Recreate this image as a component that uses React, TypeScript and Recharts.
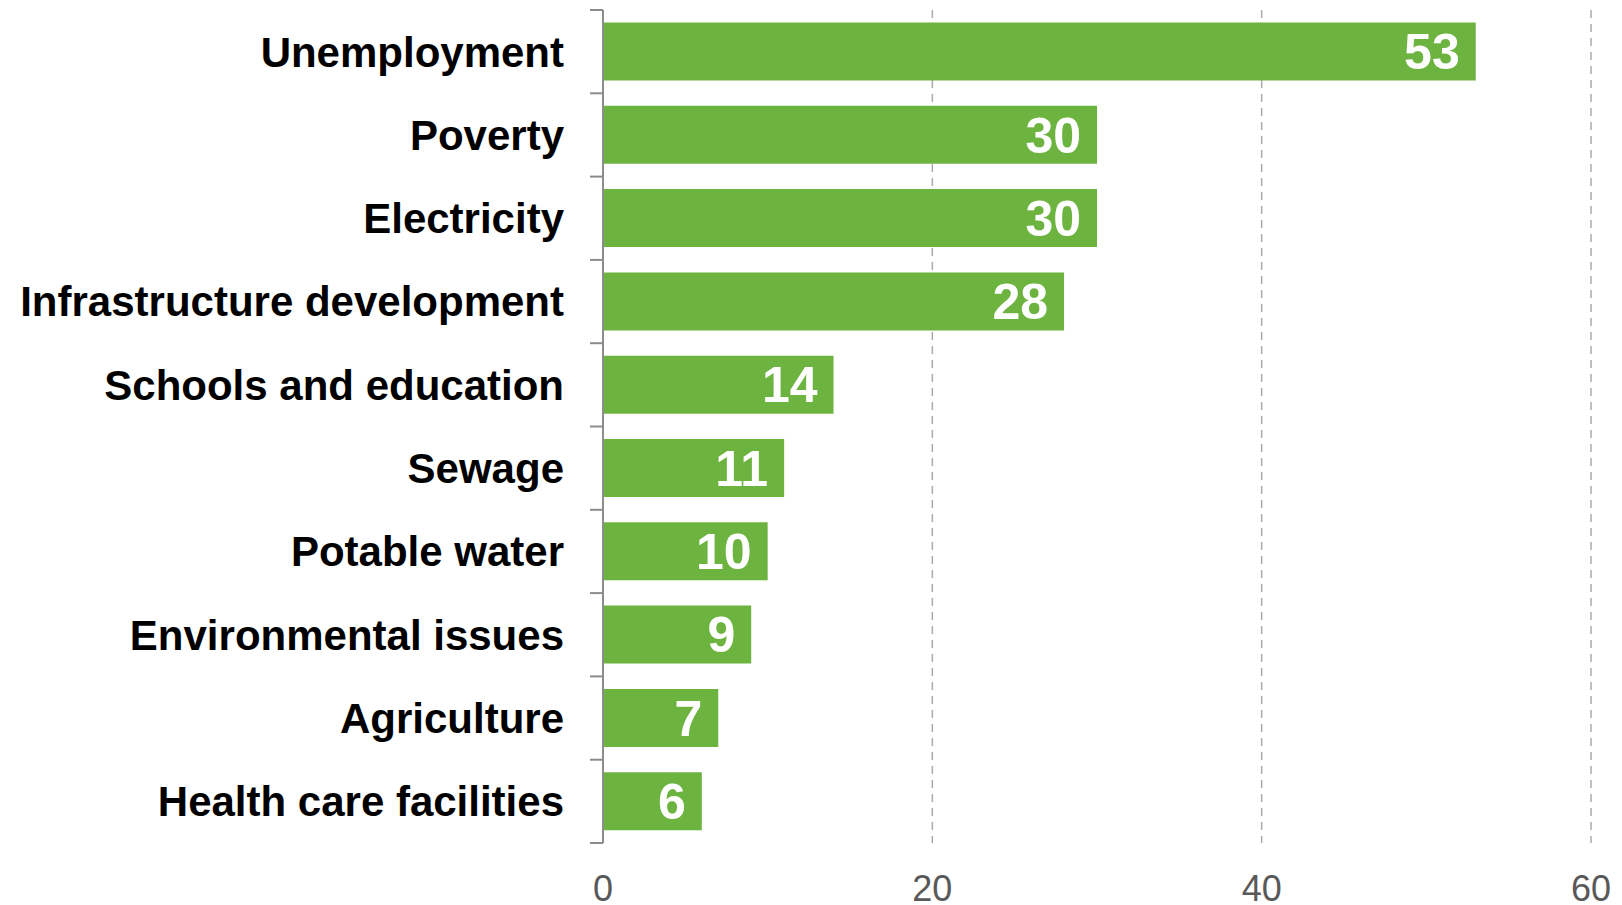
import { BarChart, Bar, XAxis, YAxis, CartesianGrid, LabelList } from 'recharts';

const categories = [
  'Unemployment',
  'Poverty',
  'Electricity',
  'Infrastructure development',
  'Schools and education',
  'Sewage',
  'Potable water',
  'Environmental issues',
  'Agriculture',
  'Health care facilities',
];
const values = [53, 30, 30, 28, 14, 11, 10, 9, 7, 6];
const xTicks = [0, 20, 40, 60];

const data = categories.map((name, i) => ({ name, value: values[i] }));

const font = '"Liberation Sans", Arial, sans-serif';
const axisGray = '#8c8c8c';
const TICK_LEN = 13;
const TICK_GAP = 26;

// plain text label plus Excel-style tick marks on the band edges (not the band centre)
const CategoryTick = (props: any) => {
  const { x, y, payload, index, visibleTicksCount, height } = props;
  const half = payload.offset > 0 ? payload.offset : height / visibleTicksCount / 2;
  const lineEnd = x + TICK_GAP + TICK_LEN;
  return (
    <g>
      <line x1={x + TICK_GAP} x2={lineEnd} y1={y - half} y2={y - half} stroke={axisGray} strokeWidth={2} />
      {index === visibleTicksCount - 1 && (
        <line x1={x + TICK_GAP} x2={lineEnd} y1={y + half} y2={y + half} stroke={axisGray} strokeWidth={2} />
      )}
      <text
        x={x}
        y={y}
        dy="0.355em"
        textAnchor="end"
        fill="#000000"
        fontSize={42}
        fontWeight="bold"
        fontFamily={font}
      >
        {payload.value}
      </text>
    </g>
  );
};

const App = () => {
  return (
    <div style={{ width: 1622, height: 905, overflow: 'hidden' }}>
      <style>{'body { margin: 0; overflow: hidden; }'}</style>
      <BarChart
        width={1622}
        height={905}
        data={data}
        layout="vertical"
        barCategoryGap="15%"
        margin={{ top: 10, right: 31, bottom: 0, left: 0 }}
      >
        <CartesianGrid horizontal={false} stroke="#aaaaaa" strokeDasharray="8 6" strokeWidth={1.5} />
        <XAxis
          type="number"
          domain={[0, 60]}
          ticks={xTicks}
          axisLine={false}
          tickLine={false}
          tickSize={0}
          tickMargin={32}
          height={62}
          tick={{ fill: '#595959', fontSize: 36, fontFamily: font }}
        />
        <YAxis
          type="category"
          dataKey="name"
          width={603}
          axisLine={{ stroke: axisGray, strokeWidth: 2 }}
          tickLine={false}
          tickSize={TICK_LEN}
          tickMargin={TICK_GAP}
          interval={0}
          tick={<CategoryTick />}
        />
        <Bar dataKey="value" fill="#6DB33F" isAnimationActive={false}>
          <LabelList
            dataKey="value"
            position="insideRight"
            offset={16}
            fill="#ffffff"
            fontSize={50}
            fontWeight="bold"
            fontFamily={font}
          />
        </Bar>
      </BarChart>
    </div>
  );
};

export default App;
